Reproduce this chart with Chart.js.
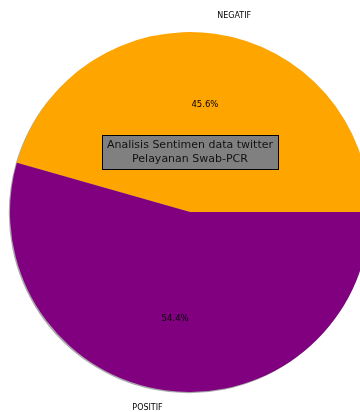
<!DOCTYPE html>
<html>
<head>
<meta charset="utf-8">
<script src="https://cdn.jsdelivr.net/npm/chart.js@4"></script>
<style>
  html, body { margin: 0; padding: 0; background: #fff; overflow: hidden; }
  #wrap { width: 380px; height: 412px; }
</style>
</head>
<body>
<div id="wrap"><canvas id="pieChart"></canvas></div>
<script>
const labels = ["NEGATIF", "POSITIF"];
const values = [45.6, 54.4];
const colors = ["#FFA500", "#800080"];
const titleLines = ["Analisis Sentimen data twitter", "Pelayanan Swab-PCR"];

const total = values.reduce((a, b) => a + b, 0);
// matplotlib style: first slice starts at 3 o'clock and runs counter-clockwise
const rotation = 90 - 360 * values[0] / total;

const shadowPlugin = {
    id: "shadow",
    beforeDatasetsDraw(chart) {
        const arcs = chart.getDatasetMeta(0).data;
        const c = chart.ctx;
        c.save();
        arcs.forEach(arc => {
            c.beginPath();
            c.moveTo(arc.x - 1.2, arc.y + 1.2);
            c.arc(arc.x - 1.2, arc.y + 1.2, arc.outerRadius, arc.startAngle, arc.endAngle);
            c.closePath();
            c.fillStyle = "rgba(80,80,80,0.5)";
            c.fill();
        });
        c.restore();
    }
};

const labelPlugin = {
    id: "pieLabels",
    afterDatasetsDraw(chart) {
        const arcs = chart.getDatasetMeta(0).data;
        const c = chart.ctx;
        c.save();
        c.fillStyle = "#000";
        c.textBaseline = "middle";
        arcs.forEach((arc, i) => {
            const mid = (arc.startAngle + arc.endAngle) / 2;
            const r = arc.outerRadius;
            const lx = arc.x + Math.cos(mid) * r * 1.1;
            const ly = arc.y + Math.sin(mid) * r * 1.1;
            c.font = "8px 'DejaVu Sans'";
            c.textAlign = Math.cos(mid) > 0 ? "left" : "right";
            c.fillText(labels[i], lx, ly);
            const px = arc.x + Math.cos(mid) * r * 0.6;
            const py = arc.y + Math.sin(mid) * r * 0.6;
            c.font = "8.5px 'DejaVu Sans'";
            c.textAlign = "center";
            c.fillText((values[i] / total * 100).toFixed(1) + "%", px, py);
        });

        // title box in the middle
        const cx = arcs[0].x;
        const cy = arcs[0].y - 60;
        c.font = "11px 'DejaVu Sans'";
        const w = Math.max(...titleLines.map(t => c.measureText(t).width)) + 10;
        const h = 34;
        c.fillStyle = "#808080";
        c.fillRect(Math.round(cx - w / 2) + 0.5, Math.round(cy - h / 2) + 0.5, Math.round(w), h);
        c.strokeStyle = "#000";
        c.lineWidth = 1;
        c.strokeRect(Math.round(cx - w / 2) + 0.5, Math.round(cy - h / 2) + 0.5, Math.round(w), h);
        c.fillStyle = "#111";
        c.textAlign = "center";
        c.fillText(titleLines[0], cx, cy - 7);
        c.fillText(titleLines[1], cx, cy + 7);
        c.restore();
    }
};

new Chart(document.getElementById("pieChart"), {
    type: "pie",
    data: {
        labels: labels,
        datasets: [{
            data: values,
            backgroundColor: colors,
            borderWidth: 0
        }]
    },
    options: {
        responsive: true,
        maintainAspectRatio: false,
        animation: false,
        rotation: rotation,
        layout: { padding: { top: 32, bottom: 20, left: 10, right: 10 } },
        plugins: {
            legend: { display: false },
            tooltip: { enabled: false }
        }
    },
    plugins: [shadowPlugin, labelPlugin]
});
</script>
</body>
</html>
